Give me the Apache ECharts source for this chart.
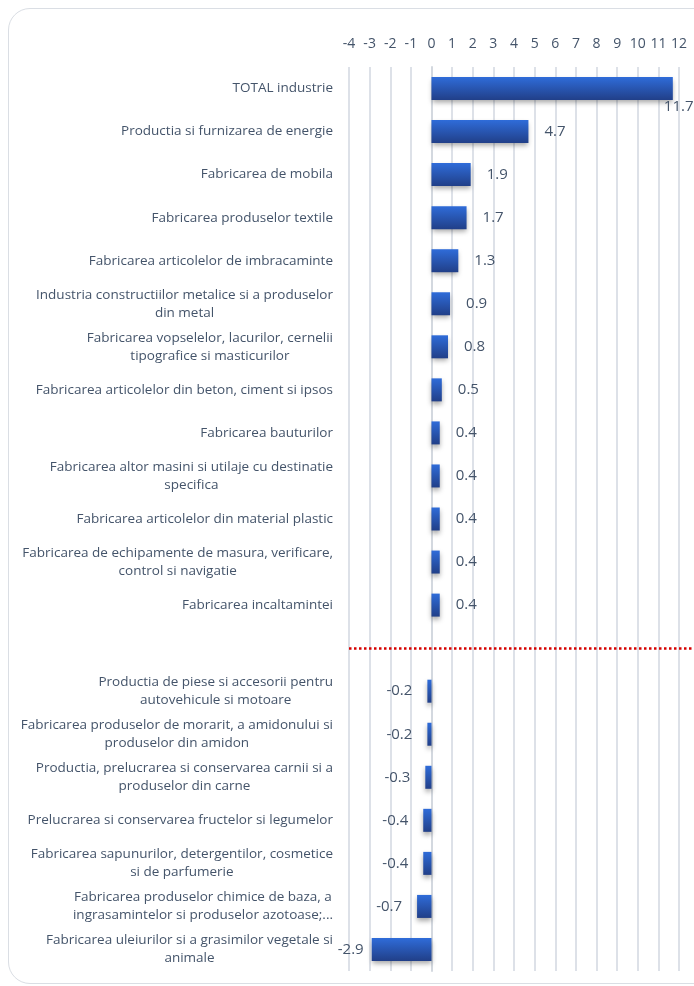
<!DOCTYPE html>
<html>
<head>
<meta charset="utf-8">
<script src="https://cdn.jsdelivr.net/npm/echarts@6/dist/echarts.min.js"></script>
<style>
  html, body { margin: 0; padding: 0; background: #fff; }
  .card {
    position: absolute; left: 8px; top: 8px;
    width: 720px; height: 976px;
    border: 1.5px solid #dadee4; border-radius: 22px;
    box-sizing: border-box;
  }
  #chart { position: absolute; left: 0; top: 0; width: 694px; height: 986px; }
</style>
</head>
<body>
<div class="card"></div>
<div id="chart"></div>
<script>
// categories from top to bottom; the empty one is the gap with the dotted separator
const categories = [
  'TOTAL industrie',
  'Productia si furnizarea de energie',
  'Fabricarea de mobila',
  'Fabricarea produselor textile',
  'Fabricarea articolelor de imbracaminte',
  'Industria constructiilor metalice si a produselor\ndin metal',
  'Fabricarea vopselelor, lacurilor, cernelii\ntipografice si masticurilor',
  'Fabricarea articolelor din beton, ciment si ipsos',
  'Fabricarea bauturilor',
  'Fabricarea altor masini si utilaje cu destinatie\nspecifica',
  'Fabricarea articolelor din material plastic',
  'Fabricarea de echipamente de masura, verificare,\ncontrol si navigatie',
  'Fabricarea incaltamintei',
  '',
  'Productia de piese si accesorii pentru\nautovehicule si motoare',
  'Fabricarea produselor de morarit, a amidonului si\nproduselor din amidon',
  'Productia, prelucrarea si conservarea carnii si a\nproduselor din carne',
  'Prelucrarea si conservarea fructelor si legumelor',
  'Fabricarea sapunurilor, detergentilor, cosmetice\nsi de parfumerie',
  'Fabricarea produselor chimice de baza, a\ningrasamintelor si produselor azotoase;...',
  'Fabricarea uleiurilor si a grasimilor vegetale si\nanimale'
];
const values = [11.7, 4.7, 1.9, 1.7, 1.3, 0.9, 0.8, 0.5, 0.4, 0.4, 0.4, 0.4, 0.4,
  null, -0.2, -0.2, -0.3, -0.4, -0.4, -0.7, -2.9];
const xMin = -4;
// the plot runs a little past the last tick (12), to the right edge of the picture
const xMax = 12.727;
const separatorIndex = 13;

const textColor = '#44546A';
const fontFamily = '"Open Sans", Lato, sans-serif';

const chart = echarts.init(document.getElementById('chart'));

const barData = values.map((v, i) => {
  if (v === null) return '-';
  const item = { value: v };
  if (v < 0) {
    item.label = { position: 'left', distance: v < -2 ? 8 : 15 };
  }
  if (i === 0) {
    // the biggest bar's label sits below the end of the bar
    item.label = { position: 'right', distance: 0, offset: [-9, 18] };
  }
  return item;
});

chart.setOption({
  animation: false,
  grid: { left: 349, right: 0, top: 67, bottom: 15 },
  xAxis: {
    type: 'value',
    position: 'top',
    min: xMin,
    max: xMax,
    interval: 1,
    axisLine: { show: false },
    axisTick: { show: false },
    axisLabel: {
      color: textColor, fontSize: 14, fontFamily: fontFamily, margin: 16,
      showMaxLabel: false,
      formatter: (v) => (Number.isInteger(v) ? String(v) : '')
    },
    splitLine: { showMaxLine: false, lineStyle: { color: '#dde1e8', width: 2 } }
  },
  yAxis: {
    type: 'category',
    inverse: true,
    data: categories,
    axisLine: { show: true, onZero: true, lineStyle: { color: '#d3d8df', width: 2 } },
    axisTick: { show: false },
    axisLabel: {
      color: textColor,
      fontSize: 13.5,
      fontFamily: fontFamily,
      margin: 16,
      lineHeight: 18,
      formatter: (v) => v.split('\n').map(s => '{c|' + s + '}').join('\n'),
      rich: { c: { align: 'center', color: textColor, fontSize: 13.5, fontFamily: fontFamily, lineHeight: 18 } }
    }
  },
  series: [{
    type: 'bar',
    data: barData,
    barWidth: 23,
    itemStyle: {
      color: new echarts.graphic.LinearGradient(0, 0, 0, 1, [
        { offset: 0, color: '#2f6cd9' },
        { offset: 1, color: '#213f88' }
      ]),
      shadowColor: 'rgba(0,0,0,0.35)',
      shadowBlur: 5,
      shadowOffsetY: 3
    },
    label: {
      show: true,
      position: 'right',
      distance: 16,
      color: textColor,
      fontSize: 15,
      fontFamily: fontFamily,
      formatter: (p) => Number(p.value).toFixed(1)
    },
    markLine: {
      silent: true,
      symbol: 'none',
      label: { show: false },
      lineStyle: { color: '#d60000', type: [2.5, 2.5], width: 2.5 },
      data: [[
        { coord: [xMin, separatorIndex] },
        { coord: [xMax, separatorIndex] }
      ]]
    }
  }]
});
</script>
</body>
</html>
